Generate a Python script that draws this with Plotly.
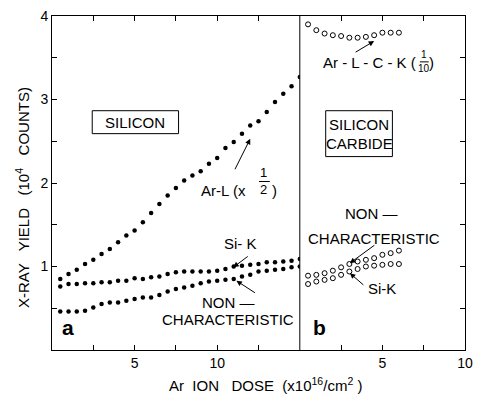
import plotly.graph_objects as go

FONT = "Liberation Sans"

# ---------------- data ----------------
# panel a : silicon (filled dots)
dose_a = [0.5, 1.0, 1.5, 2.0, 2.5, 3.0, 3.5, 4.0, 4.5, 5.0, 5.5, 6.0, 6.5, 7.0, 7.5,
          8.0, 8.5, 9.0, 9.5, 10.0, 10.5, 11.0, 11.5, 12.0, 12.5, 13.0, 13.5, 14.0, 14.5, 15.0]
arl_a = [0.85, 0.91, 0.96, 1.03, 1.08, 1.15, 1.21, 1.29, 1.37, 1.43, 1.53, 1.64, 1.75, 1.85, 1.94,
         2.03, 2.09, 2.14, 2.23, 2.30, 2.42, 2.49, 2.59, 2.69, 2.74, 2.85, 2.97, 3.07, 3.16, 3.27]
sik_a = [0.76, 0.79, 0.79, 0.80, 0.80, 0.81, 0.81, 0.83, 0.83, 0.86, 0.85, 0.87, 0.88, 0.91, 0.93,
         0.94, 0.94, 0.94, 0.94, 0.95, 0.97, 1.00, 1.01, 1.02, 1.03, 1.05, 1.05, 1.06, 1.07, 1.09]
nonchar_a = [0.46, 0.46, 0.46, 0.47, 0.51, 0.55, 0.57, 0.57, 0.59, 0.61, 0.63, 0.63, 0.66, 0.70, 0.73,
             0.75, 0.77, 0.80, 0.82, 0.83, 0.84, 0.85, 0.88, 0.90, 0.94, 0.95, 0.96, 0.97, 0.99, 1.00]

# panel b : silicon carbide (open circles)
dose_b = [0.5, 1.0, 1.5, 2.0, 2.5, 3.0, 3.5, 4.0, 4.5, 5.0, 5.5, 6.0]
arlck_b = [3.90, 3.83, 3.79, 3.77, 3.76, 3.74, 3.74, 3.75, 3.77, 3.80, 3.80, 3.80]
nonchar_b = [0.89, 0.90, 0.92, 0.95, 0.99, 1.03, 1.06, 1.08, 1.10, 1.14, 1.16, 1.19]
sik_b = [0.79, 0.82, 0.84, 0.86, 0.90, 0.94, 0.97, 1.00, 1.01, 1.02, 1.03, 1.03]

xa_ticks = [2.5, 5, 7.5, 10, 12.5]
xa_text = ["", "5", "", "10", ""]
xb_ticks = [2.5, 5, 7.5, 10]
xb_text = ["", "5", "", "10"]
y_ticks = [0.5, 1, 1.5, 2, 2.5, 3, 3.5, 4]
y_text = ["", "1", "", "2", "", "3", "", "4"]

# ---------------- geometry helpers ----------------
W, H = 481, 396
L, R, T, B = 52, 8, 15, 46
PW, PH = W - L - R, H - T - B


def px(X):
    return (X - L) / PW


def py(Y):
    return (H - B - Y) / PH


fig = go.Figure()

dot = dict(size=4.5, color="black")
ring = dict(size=5, color="white", line=dict(color="black", width=1))

for ys in (arl_a, sik_a, nonchar_a):
    fig.add_trace(go.Scatter(x=dose_a, y=ys, mode="markers", marker=dot,
                             xaxis="x", yaxis="y", hoverinfo="skip"))
for ys in (arlck_b, nonchar_b, sik_b):
    fig.add_trace(go.Scatter(x=dose_b, y=ys, mode="markers", marker=ring,
                             xaxis="x2", yaxis="y2", hoverinfo="skip"))

axis_common = dict(showgrid=False, zeroline=False, showline=True, linecolor="black",
                   linewidth=1, ticks="inside", ticklen=5, tickcolor="black",
                   tickfont=dict(family=FONT, size=14, color="black"))

fig.update_layout(
    width=W, height=H,
    margin=dict(l=L, r=R, t=T, b=B),
    paper_bgcolor="white", plot_bgcolor="white",
    showlegend=False,
    font=dict(family=FONT, size=14, color="black"),
    xaxis=dict(domain=[0, 0.6], range=[0, 15], anchor="y", mirror="ticks",
               tickmode="array", tickvals=xa_ticks, ticktext=xa_text, **axis_common),
    xaxis2=dict(domain=[0.6, 1], range=[0, 10], anchor="y2", mirror="ticks",
                tickmode="array", tickvals=xb_ticks, ticktext=xb_text, **axis_common),
    yaxis=dict(domain=[0, 1], range=[0, 4], anchor="x",
               tickmode="array", tickvals=y_ticks, ticktext=y_text, **axis_common),
    yaxis2=dict(domain=[0, 1], range=[0, 4], anchor="x2", side="right", matches="y",
                tickmode="array", tickvals=y_ticks, showticklabels=False, **axis_common),
)

# divider between panels
fig.add_shape(type="line", xref="paper", yref="paper", x0=0.6, x1=0.6, y0=0, y1=1,
              line=dict(color="black", width=1))

# label boxes
fig.add_shape(type="rect", xref="paper", yref="paper", x0=px(93), x1=px(181), y0=py(133), y1=py(110),
              line=dict(color="black", width=1))
fig.add_shape(type="rect", xref="paper", yref="paper", x0=px(331), x1=px(399), y0=py(156), y1=py(110),
              line=dict(color="black", width=1))

# fraction bars
fig.add_shape(type="line", xref="paper", yref="paper", x0=px(263), x1=px(274), y0=py(181), y1=py(181),
              line=dict(color="black", width=1))
fig.add_shape(type="line", xref="paper", yref="paper", x0=px(427), x1=px(436), y0=py(61), y1=py(61),
              line=dict(color="black", width=1))


def text(X, Y, s, size=15, xanchor="center", bold=False, angle=0):
    fig.add_annotation(x=px(X), y=py(Y), xref="paper", yref="paper", text=s, showarrow=False,
                       xanchor=xanchor, yanchor="middle", textangle=angle,
                       font=dict(family=FONT, size=size, color="black"))


text(137, 122, "SILICON", 15)
text(365, 124, "SILICON", 15)
text(365, 143, "CARBIDE", 15)

text(202, 190, "Ar-L (x", 15, xanchor="left")
text(268, 172, "1", 13)
text(268, 189, "2", 13)
text(279, 190, ")", 15)

text(425, 62, "Ar - L - C - K (", 15, xanchor="right")
text(431, 54, "1", 10)
text(431, 68, "10", 10)
text(439, 62, ")", 15)

text(244, 243, "Si- K", 15)
text(232, 302, "NON \u2014", 15)
text(231, 319, "CHARACTERISTIC", 15)

text(378, 213, "NON \u2014", 15)
text(380, 238, "CHARACTERISTIC", 15)
text(388, 288, "Si-K", 15)

text(68, 327, "<b>a</b>", 21)
text(325, 327, "<b>b</b>", 21)

text(270, 385, "Ar  ION   DOSE  (x10<sup>16</sup>/cm<sup>2</sup> )", 15)
text(22, 197, "X-RAY   YIELD   (10<sup>4</sup>   COUNTS)", 15, angle=-90)


def arrow(x, y, ax, ay, xr="x", yr="y"):
    fig.add_annotation(x=x, y=y, xref=xr, yref=yr, ax=ax, ay=ay, axref="pixel", ayref="pixel",
                       text="", showarrow=True, arrowhead=2, arrowsize=1.1, arrowwidth=1,
                       arrowcolor="black")


arrow(12.0, 2.53, -16, 32)
arrow(10.97, 0.99, 16, -12)
arrow(11.16, 0.83, 20, 13)
arrow(4.5, 3.70, -20, 12, "x2", "y2")
arrow(3.03, 1.04, 26, -19, "x2", "y2")
arrow(3.03, 0.92, 15, 13, "x2", "y2")

fig.write_html("out.html")
